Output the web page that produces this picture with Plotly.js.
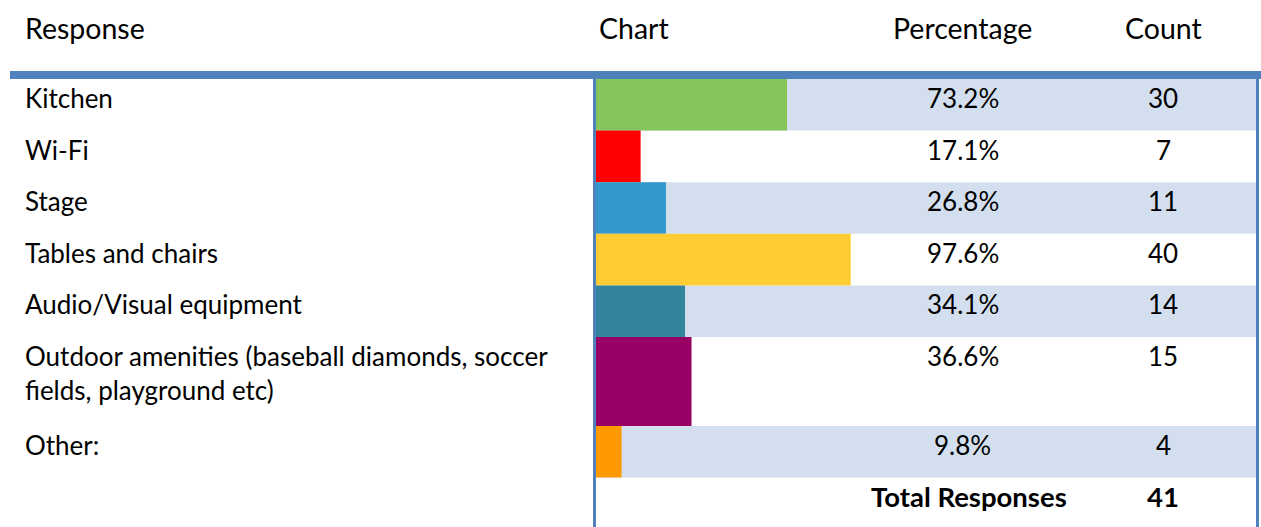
<!DOCTYPE html>
<html>
<head>
<meta charset="utf-8">
<script src="https://cdn.plot.ly/plotly-3.0.1.min.js"></script>
<style>html,body{margin:0;padding:0;background:#fff;}#chart{width:1261px;height:527px;}</style>
</head>
<body>
<div id="chart"></div>
<script>
// ---- data ----
const responses = [
  "Kitchen",
  "Wi-Fi",
  "Stage",
  "Tables and chairs",
  "Audio/Visual equipment",
  "Outdoor amenities (baseball diamonds, soccer<br>fields, playground etc)",
  "Other:"
];
const percentages = [73.2, 17.1, 26.8, 97.6, 34.1, 36.6, 9.8];
const counts = [30, 7, 11, 40, 14, 15, 4];
const barColors = ["#84C65C", "#FF0000", "#3399CC", "#FFCC33", "#32859C", "#990066", "#FF9900"];
const headers = ["Response", "Chart", "Percentage", "Count"];
const totalLabel = "Total Responses";
const totalCount = 41;

// ---- layout helpers ----
const W = 1261, H = 527;
const FONT = "Lato, 'Open Sans', sans-serif";
const FS = 26;
const px = v => v / W;
const tableTop = 79;
const rowBase = 51.6;
const extraLine = 37.4;
const blue = "#4F81BD";
const shade = "#D3DFEE";

const tops = [], heights = [], centers = [];
let y = tableTop;
responses.forEach(r => {
  const lines = r.split("<br>").length;
  const h = rowBase + (lines - 1) * extraLine;
  tops.push(y); heights.push(h); centers.push(y + h / 2);
  y += h;
});
const totalTop = y;

const shapes = [];
tops.forEach((t, i) => {
  if (i % 2 === 0) {
    shapes.push({type: "rect", layer: "below", xref: "paper", yref: "y",
      x0: px(596), x1: px(1256), y0: t, y1: t + heights[i],
      fillcolor: shade, line: {width: 0}});
  }
});
shapes.push({type: "line", xref: "paper", yref: "y", x0: px(10), x1: 1, y0: 75, y1: 75,
  line: {color: blue, width: 8}});
shapes.push({type: "line", xref: "paper", yref: "y", x0: px(594.5), x1: px(594.5), y0: 79, y1: H,
  line: {color: blue, width: 3}});
shapes.push({type: "line", xref: "paper", yref: "y", x0: px(1257.5), x1: px(1257.5), y0: 79, y1: H,
  line: {color: blue, width: 3}});

const ann = [];
const txt = (text, x, yy, xanchor, bold, size) => ann.push({
  text: bold ? "<b>" + text + "</b>" : text, xref: "paper", yref: "y", x: x, y: yy,
  xanchor: xanchor, yanchor: "middle", showarrow: false, align: "left",
  font: {family: FONT, size: size || FS, color: "#000"}
});
// headers
const HFS = 28.5;
txt(headers[0], px(23), 28, "left", false, HFS);
txt(headers[1], px(597), 28, "left", false, HFS);
txt(headers[2], px(963), 28, "center", false, HFS);
txt(headers[3], px(1163), 28, "center", false, HFS);
// rows
responses.forEach((r, i) => {
  const lines = r.split("<br>").length;
  const cy = tops[i] + 19 + (lines - 1) * FS * 1.3 / 2;
  txt(r, px(23), cy, "left");
  txt(percentages[i].toFixed(1) + "%", px(963), tops[i] + 19, "center");
  txt(String(counts[i]), px(1163), tops[i] + 19, "center");
});
txt(totalLabel, px(969), totalTop + 19, "center", true, 27.5);
txt(String(totalCount), px(1163), totalTop + 19, "center", true, 27.5);

const trace = {
  type: "bar", orientation: "h",
  x: percentages, y: centers, width: heights, base: 0,
  marker: {color: barColors, line: {width: 0}},
  hoverinfo: "skip"
};

const layout = {
  width: W, height: H,
  margin: {l: 0, r: 0, t: 0, b: 0, pad: 0},
  paper_bgcolor: "#fff", plot_bgcolor: "rgba(0,0,0,0)",
  showlegend: false,
  xaxis: {domain: [px(596), px(857)], range: [0, 100], visible: false, fixedrange: true},
  yaxis: {domain: [0, 1], range: [H, 0], visible: false, fixedrange: true},
  shapes: shapes,
  annotations: ann
};

Plotly.newPlot("chart", [trace], layout, {displayModeBar: false, staticPlot: true});
</script>
</body>
</html>
